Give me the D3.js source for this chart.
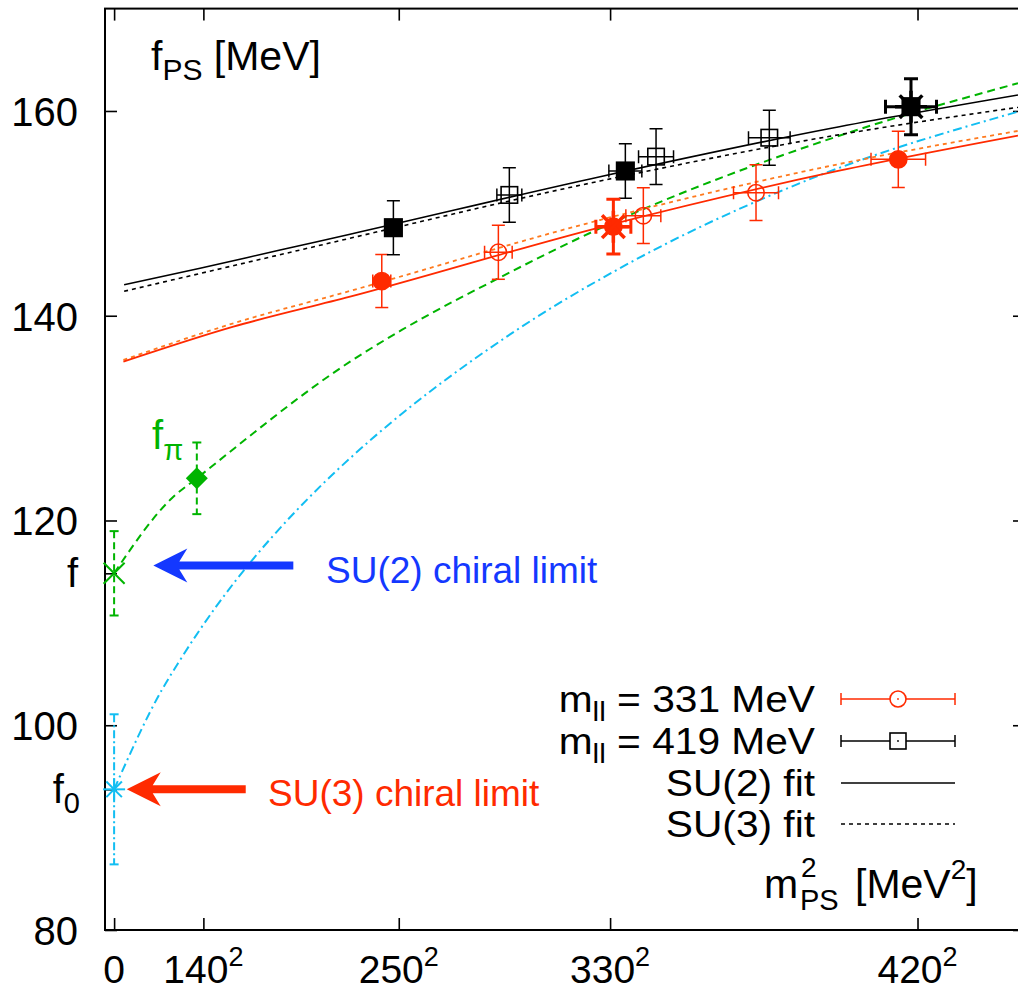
<!DOCTYPE html>
<html>
<head>
<meta charset="utf-8">
<script src="https://cdn.jsdelivr.net/npm/d3@7"></script>
<style>
  html, body { margin: 0; padding: 0; background: #fff; overflow: hidden; }
  svg { display: block; font-family: "Liberation Sans", Arial, Helvetica, sans-serif; }
</style>
</head>
<body>
<svg id="chart" width="1018" height="994"></svg>
<script>
// Pseudoscalar decay constant f_PS against m_PS^2 for two light-quark masses,
// with SU(2) / SU(3) chiral fits and the extrapolated chiral limits.

const xTickValues = [0, 140 * 140, 250 * 250, 330 * 330, 420 * 420];
const xTickBases = ["0", "140", "250", "330", "420"];
const yTickValues = [80, 100, 120, 140, 160];

// points: [m_PS^2 (MeV^2), f_PS (MeV), m^2 error, f error]
const ml331Filled = [[58770, 143.39, 1980, 2.59], [172180, 155.28, 5990, 2.75]];
const ml331Open = [[84370, 146.20, 3030, 2.64], [116200, 149.77, 3840, 2.72], [140940, 152.02, 4940, 2.72]];
const ml331Star = [[109620, 148.70, 3840, 2.67]];
const ml419Filled = [[61320, 148.60, 1700, 2.64], [112250, 154.14, 3620, 2.67]];
const ml419Open = [[86780, 151.80, 2740, 2.66], [118990, 155.54, 3840, 2.72], [143860, 157.39, 4570, 2.69]];
const ml419Star = [[174970, 160.42, 5600, 2.73]];

// fit curves, sampled as [m_PS^2, f_PS]
const su2Fit419 = [[2200, 143.03], [18880, 144.64], [36440, 146.42], [51810, 147.96], [106700, 153.58], [157190, 158.29], [198460, 161.56]];
const su3Fit419 = [[2200, 142.39], [40830, 146.42], [51810, 147.57], [106700, 153.16], [157190, 157.53], [198460, 160.36]];
const su2Fit331 = [[2040, 135.51], [26190, 138.93], [51810, 141.86], [106700, 148.64], [157190, 153.97], [198460, 157.59]];
const su3Fit331 = [[2040, 135.68], [26190, 139.26], [51810, 142.42], [106700, 149.35], [157190, 154.63], [198460, 158.05]];
const su2ChiralCurve = [[0, 114.84], [12670, 122.17], [18160, 124.12], [51810, 135.51], [63160, 138.61], [84370, 143.66], [106700, 148.54], [157190, 157.28], [198460, 162.71]];
const su3ChiralCurve = [[0, 93.74], [10470, 103.44], [14490, 106.37], [46700, 123.96], [51810, 126.08], [88410, 138.61], [110360, 144.47], [153450, 153.46], [198460, 159.93]];

// chiral-limit values and physical pion: [m^2, f, f error]
const fSU2 = [0, 114.84, 4.12];
const fPion = [18160, 124.12, 3.5];
const fSU3 = [0, 93.74, 7.33];

const legendLabels = ["331 MeV", "419 MeV", "SU(2) fit", "SU(3) fit"];

const RED = "#ff2a00", ORANGE = "#ff7a1e", GREEN = "#00b400", CYAN = "#12bef2", BLUE = "#1438ff";

const svg = d3.select("#chart");
const L = 105, R = 1025, T = 8.6, B = 930;
const x = d3.scaleLinear().domain([-2000, 200000]).range([L, R]);
const y = d3.scaleLinear().domain([80, 170]).range([B, T]);

svg.append("clipPath").attr("id", "plotclip")
  .append("rect").attr("x", L).attr("y", T).attr("width", R - L).attr("height", B - T);

// ---- axes ----
const tickLen = 12;
function styleAxis(g) {
  g.select(".domain").remove();
  g.selectAll(".tick line").attr("stroke", "#000").attr("stroke-width", 1.6);
}
svg.append("g").attr("transform", `translate(${L},0)`)
  .call(d3.axisLeft(y).tickValues(yTickValues).tickSize(-tickLen).tickPadding(27).tickFormat(d3.format("d")))
  .call(styleAxis)
  .call(g => g.selectAll(".tick text").attr("font-size", 40).attr("fill", "#000")
    .attr("font-family", "'Liberation Sans', Arial, sans-serif").attr("dy", "0.36em"));
svg.append("g").attr("transform", `translate(${R},0)`)
  .call(d3.axisRight(y).tickValues(yTickValues).tickSize(-tickLen).tickFormat(""))
  .call(styleAxis);
// extra ticks at the two chiral-limit values
svg.append("g").attr("transform", `translate(${L},0)`)
  .call(d3.axisLeft(y).tickValues([fSU2[1], fSU3[1]]).tickSize(-tickLen).tickFormat(""))
  .call(styleAxis);
svg.append("g").attr("transform", `translate(0,${B})`)
  .call(d3.axisBottom(x).tickValues(xTickValues).tickSize(-tickLen).tickFormat(""))
  .call(styleAxis);
svg.append("g").attr("transform", `translate(0,${T})`)
  .call(d3.axisTop(x).tickValues(xTickValues).tickSize(-tickLen).tickFormat(""))
  .call(styleAxis);

// x tick labels with squared masses
xTickValues.forEach((v, i) => {
  const t = svg.append("text").attr("x", x(v)).attr("y", 983)
    .attr("text-anchor", "middle").attr("font-size", 39).text(xTickBases[i]);
  if (i > 0) t.append("tspan").attr("dy", -17).attr("font-size", 27).text("2");
});

// chiral-limit tick labels
svg.append("text").attr("x", 78).attr("y", y(fSU2[1]) + 14)
  .attr("text-anchor", "end").attr("font-size", 40).text("f");
const f0Lab = svg.append("text").attr("x", 80).attr("y", y(fSU3[1]) + 14)
  .attr("text-anchor", "end").attr("font-size", 40).text("f");
f0Lab.append("tspan").attr("dy", 10).attr("font-size", 29).text("0");

// frame
svg.append("rect").attr("x", L).attr("y", T).attr("width", R - L).attr("height", B - T)
  .attr("fill", "none").attr("stroke", "#000").attr("stroke-width", 2);

// axis titles
const yt = svg.append("text").attr("x", 151).attr("y", 70).attr("font-size", 41).text("f");
yt.append("tspan").attr("dy", 10).attr("font-size", 30).text("PS");
yt.append("tspan").attr("dy", -10).attr("font-size", 41).text(" [MeV]");

svg.append("text").attr("x", 764).attr("y", 898).attr("font-size", 41).text("m");
svg.append("text").attr("x", 801).attr("y", 877).attr("font-size", 28).text("2");
svg.append("text").attr("x", 800).attr("y", 910).attr("font-size", 29).text("PS");
const xt = svg.append("text").attr("x", 855).attr("y", 898).attr("font-size", 41).text("[MeV");
xt.append("tspan").attr("dy", -19).attr("font-size", 28).text("2");
xt.append("tspan").attr("dy", 19).attr("font-size", 41).text("]");

// ---- curves ----
const plot = svg.append("g").attr("clip-path", "url(#plotclip)");
const line = d3.line().x(d => x(d[0])).y(d => y(d[1])).curve(d3.curveMonotoneX);
function curve(data, color, width, dash) {
  plot.append("path").datum(data).attr("d", line).attr("fill", "none")
    .attr("stroke", color).attr("stroke-width", width)
    .attr("stroke-dasharray", dash || null);
}
curve(su3ChiralCurve, CYAN, 2, "9,4,2,4");
curve(su2ChiralCurve, GREEN, 2, "8,5");
curve(su3Fit331, ORANGE, 1.8, "4,4");
curve(su2Fit331, RED, 1.8);
curve(su3Fit419, "#000", 1.6, "4,4");
curve(su2Fit419, "#000", 1.6);

// ---- error bars & markers ----
function seg(g, x1, y1, x2, y2, color, w, dash) {
  g.append("line").attr("x1", x1).attr("y1", y1).attr("x2", x2).attr("y2", y2)
    .attr("stroke", color).attr("stroke-width", w).attr("stroke-dasharray", dash || null);
}
function errorBars(pts, color, w, cap) {
  const g = plot.append("g");
  pts.forEach(([m, f, dm, df]) => {
    const cx = x(m), cy = y(f), y1 = y(f + df), y2 = y(f - df), x1 = x(m - dm), x2 = x(m + dm);
    seg(g, cx, y1, cx, y2, color, w);
    seg(g, cx - cap, y1, cx + cap, y1, color, w);
    seg(g, cx - cap, y2, cx + cap, y2, color, w);
    seg(g, x1, cy, x2, cy, color, w);
    seg(g, x1, cy - cap, x1, cy + cap, color, w);
    seg(g, x2, cy - cap, x2, cy + cap, color, w);
  });
}
function circles(pts, color, filled) {
  plot.append("g").selectAll("circle").data(pts).join("circle")
    .attr("cx", d => x(d[0])).attr("cy", d => y(d[1])).attr("r", filled ? 8.6 : 8.2)
    .attr("fill", filled ? color : "none").attr("stroke", color).attr("stroke-width", 1.6);
}
function squares(pts, color, filled) {
  const s = filled ? 17.5 : 16.5;
  plot.append("g").selectAll("rect").data(pts).join("rect")
    .attr("x", d => x(d[0]) - s / 2).attr("y", d => y(d[1]) - s / 2)
    .attr("width", s).attr("height", s)
    .attr("fill", filled ? color : "none").attr("stroke", color).attr("stroke-width", 1.6);
}
function asterisk(g, cx, cy, r, color, w) {
  [0, 45, 90, 135].forEach(a => {
    const dx = r * Math.cos(a * Math.PI / 180), dy = r * Math.sin(a * Math.PI / 180);
    seg(g, cx - dx, cy - dy, cx + dx, cy + dy, color, w);
  });
}

errorBars(ml331Filled, RED, 1.5, 6.5);
errorBars(ml331Open, RED, 1.5, 6.5);
errorBars(ml419Filled, "#000", 1.5, 6.5);
errorBars(ml419Open, "#000", 1.5, 6.5);
errorBars(ml331Star, RED, 3, 7);
errorBars(ml419Star, "#000", 3, 7);

circles(ml331Filled, RED, true);
circles(ml331Open, RED, false);
circles(ml331Star, RED, true);
squares(ml419Filled, "#000", true);
squares(ml419Open, "#000", false);
squares(ml419Star, "#000", true);
ml331Star.forEach(d => asterisk(plot, x(d[0]), y(d[1]), 16, RED, 3.5));
ml419Star.forEach(d => asterisk(plot, x(d[0]), y(d[1]), 16, "#000", 3.5));

// chiral limits and the physical pion
const lim = svg.append("g");
function vErr(p, color, dash, cap) {
  const cx = x(p[0]), y1 = y(p[1] + p[2]), y2 = y(p[1] - p[2]);
  seg(lim, cx, y1, cx, y2, color, 2, dash);
  seg(lim, cx - cap, y1, cx + cap, y1, color, 2);
  seg(lim, cx - cap, y2, cx + cap, y2, color, 2);
}
vErr(fSU2, GREEN, "7,4", 4.5);
vErr(fPion, GREEN, "7,4", 4.5);
vErr(fSU3, CYAN, "8,3,2,3", 4.5);
{
  const cx = x(fSU2[0]), cy = y(fSU2[1]), r = 10.5;
  seg(lim, cx - r, cy - r, cx + r, cy + r, GREEN, 2);
  seg(lim, cx - r, cy + r, cx + r, cy - r, GREEN, 2);
}
{
  const cx = x(fPion[0]), cy = y(fPion[1]), r = 11;
  lim.append("path").attr("d", `M${cx},${cy - r}L${cx + r},${cy}L${cx},${cy + r}L${cx - r},${cy}Z`)
    .attr("fill", GREEN);
}
asterisk(lim, x(fSU3[0]), y(fSU3[1]), 11, CYAN, 2);

const fpi = svg.append("text").attr("x", 152).attr("y", 449).attr("font-size", 40)
  .attr("fill", GREEN).text("f");
fpi.append("tspan").attr("dy", 11).attr("font-size", 29).text("\u03c0");

// arrows pointing at the chiral limits
function arrow(tipM2, tailM2, f, color) {
  const tx = x(tipM2), ex = x(tailM2), cy = y(f);
  const hl = 34, notch = 26, hh = 17, sw = 4;
  svg.append("path")
    .attr("d", `M${tx},${cy}L${tx + hl},${cy - hh}L${tx + notch},${cy - sw}L${ex},${cy - sw}` +
      `L${ex},${cy + sw}L${tx + notch},${cy + sw}L${tx + hl},${cy + hh}Z`)
    .attr("fill", color);
}
arrow(8610, 39350, 115.6, BLUE);
arrow(2770, 28900, 93.75, RED);
svg.append("text").attr("x", 326).attr("y", 583).attr("font-size", 37).attr("fill", BLUE)
  .text("SU(2) chiral limit");
svg.append("text").attr("x", 268).attr("y", 806).attr("font-size", 37).attr("fill", RED)
  .text("SU(3) chiral limit");

// ---- legend ----
const legRows = [699, 741, 783, 824];
const sx1 = 841, sx2 = 955, sxm = 898, textRight = 815;
legendLabels.forEach((lab, i) => {
  // slightly widened glyphs keep the rows compact
  const t = svg.append("text")
    .attr("transform", `translate(${textRight},${legRows[i] + 13}) scale(1.1,1)`)
    .attr("text-anchor", "end").attr("font-size", 37);
  if (i < 2) {
    t.append("tspan").text("m");
    t.append("tspan").attr("dy", 9).attr("font-size", 27).text("ll");
    t.append("tspan").attr("dy", -9).text(" = " + lab);
  } else {
    t.text(lab);
  }
});
const lg = svg.append("g");
[[RED, "circle"], ["#000", "square"]].forEach(([c, shape], i) => {
  const cy = legRows[i];
  seg(lg, sx1, cy, sx2, cy, c, 1.5);
  seg(lg, sx1, cy - 6, sx1, cy + 6, c, 1.5);
  seg(lg, sx2, cy - 6, sx2, cy + 6, c, 1.5);
  if (shape === "circle") {
    lg.append("circle").attr("cx", sxm).attr("cy", cy).attr("r", 8)
      .attr("fill", "#fff").attr("stroke", c).attr("stroke-width", 1.6);
  } else {
    lg.append("rect").attr("x", sxm - 8).attr("y", cy - 8).attr("width", 16).attr("height", 16)
      .attr("fill", "#fff").attr("stroke", c).attr("stroke-width", 1.6);
  }
  lg.append("circle").attr("cx", sxm).attr("cy", cy).attr("r", 0.9).attr("fill", c);
});
seg(lg, sx1, legRows[2], sx2, legRows[2], "#000", 1.6);
seg(lg, sx1, legRows[3], sx2, legRows[3], "#000", 1.6, "4,4");
</script>
</body>
</html>
